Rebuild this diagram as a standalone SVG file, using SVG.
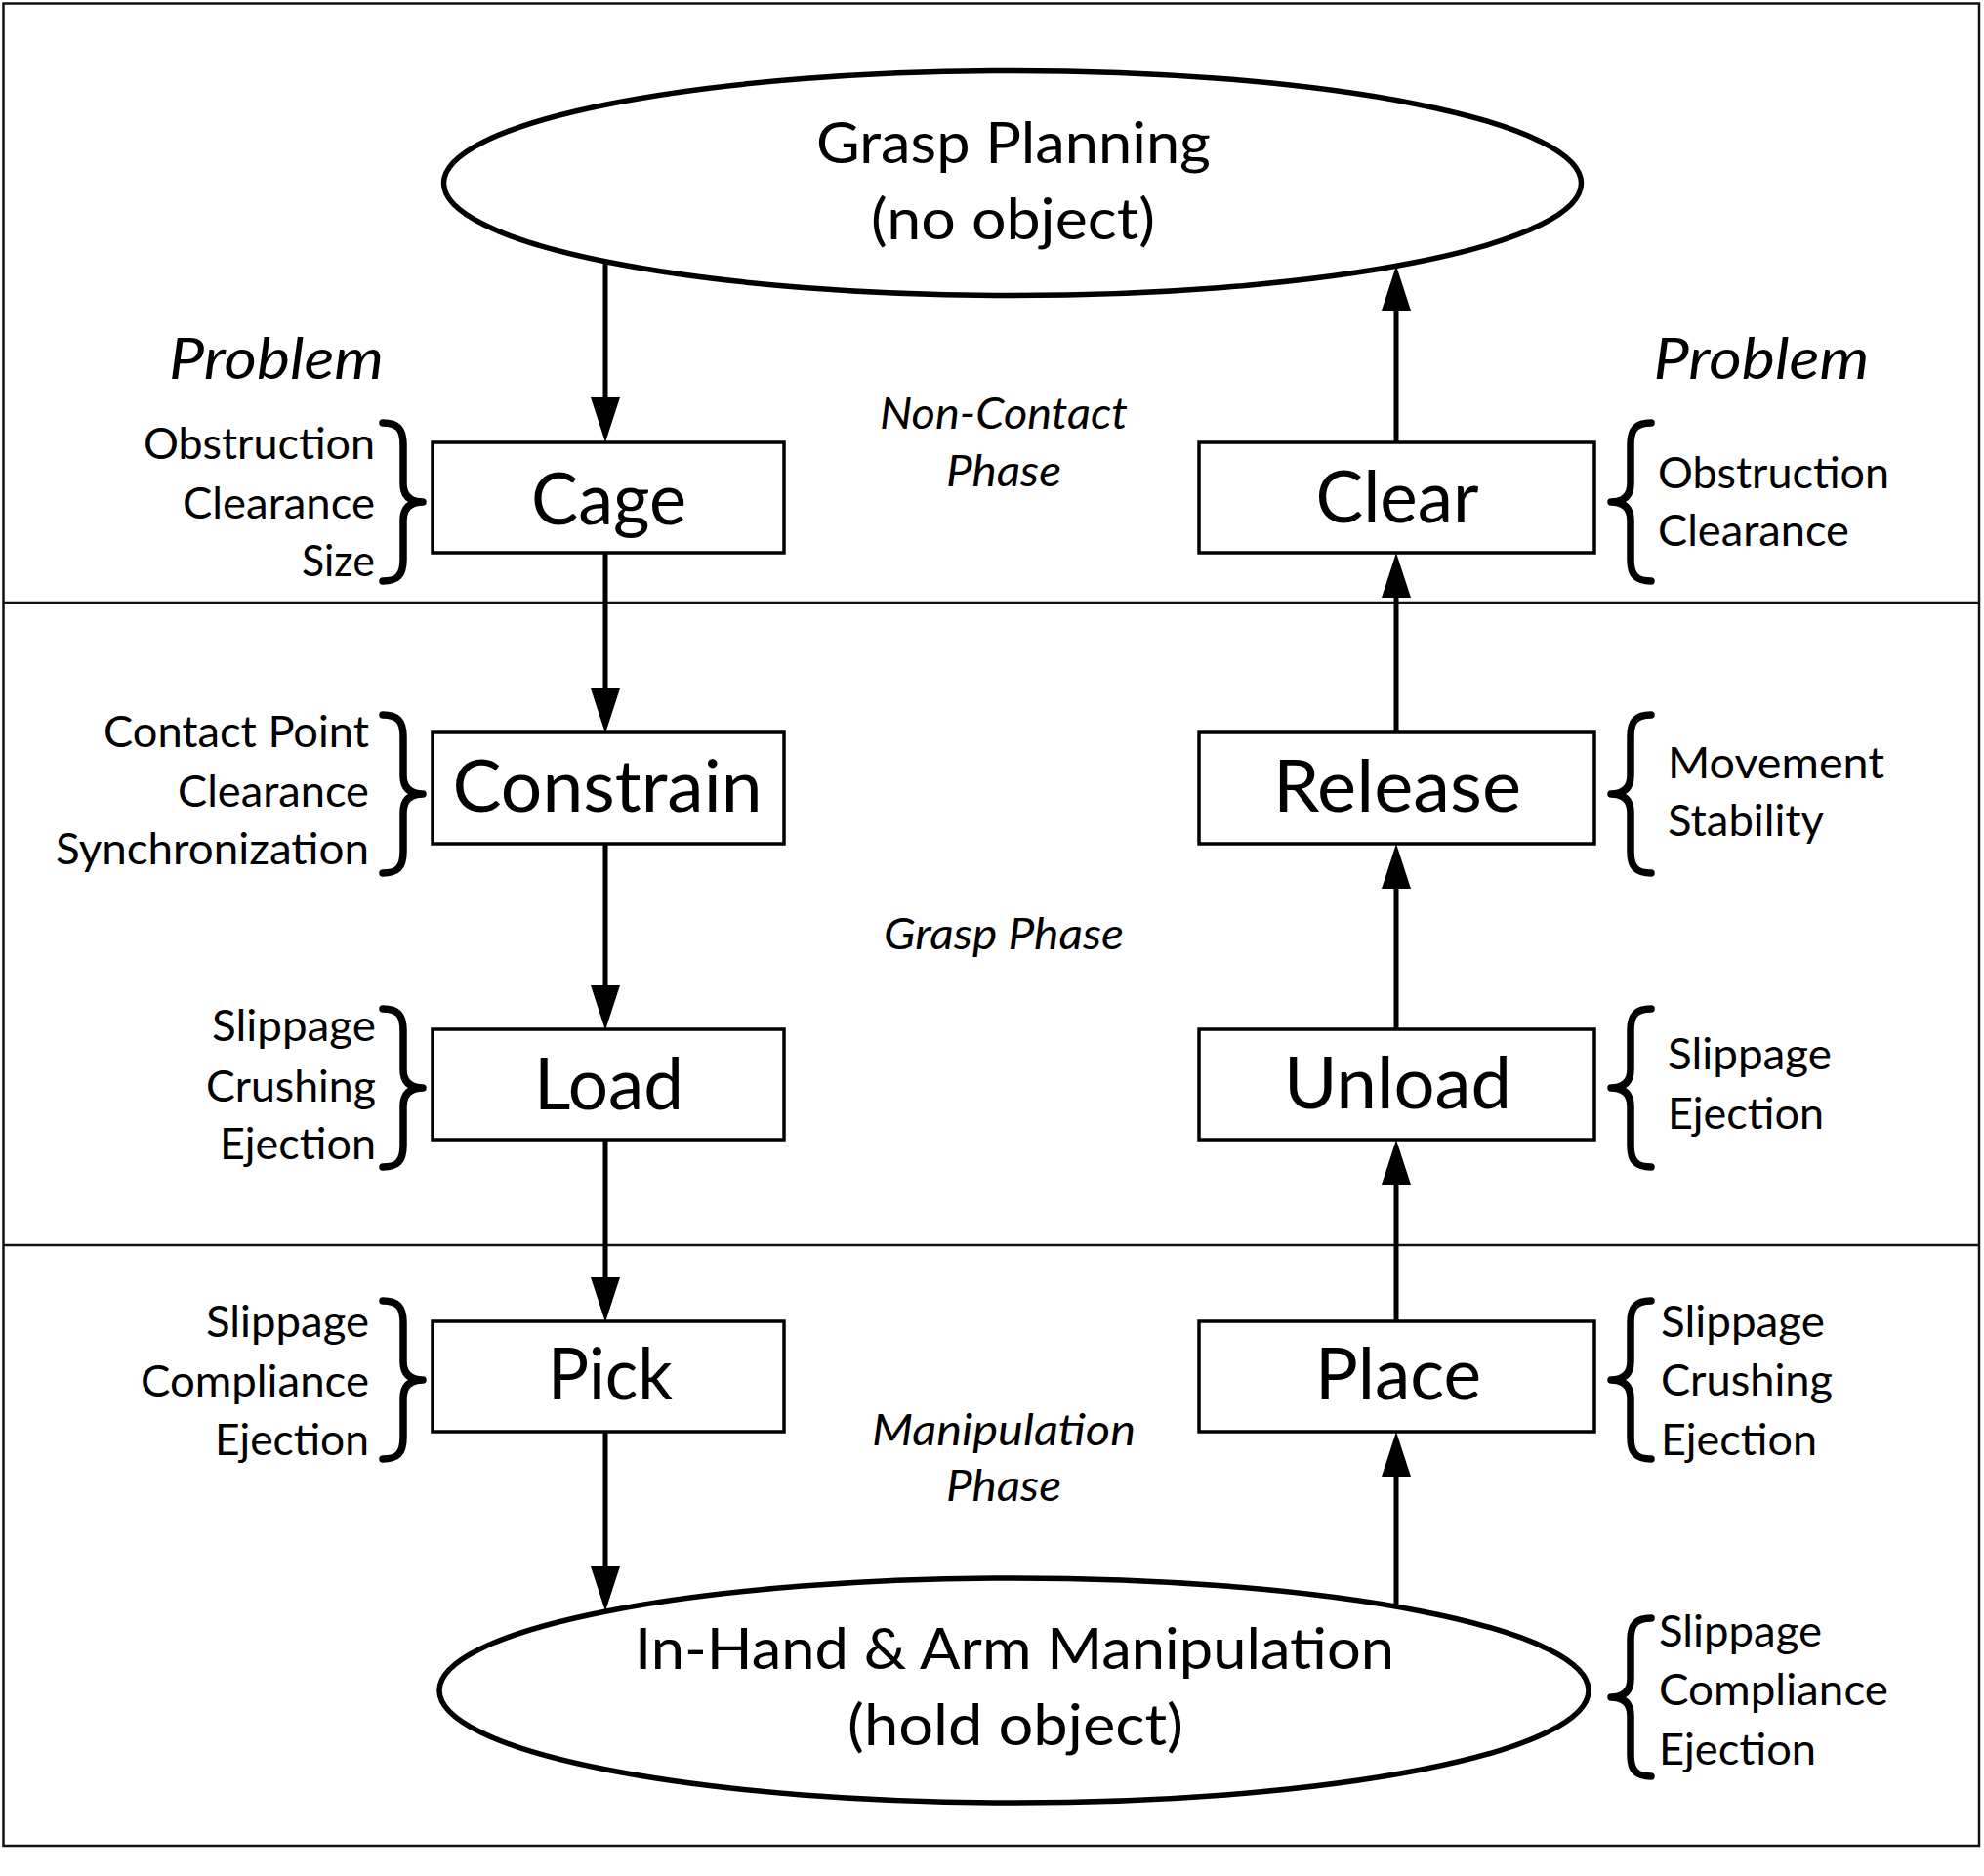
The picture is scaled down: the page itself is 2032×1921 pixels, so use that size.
<svg xmlns="http://www.w3.org/2000/svg" width="2032" height="1921" viewBox="0 0 2032 1921">
<style>
text{font-family:Lato,"Open Sans","Liberation Sans",sans-serif;fill:#000}
.big{font-size:59px;text-anchor:middle}
.box{font-size:73px;text-anchor:middle}
.lab{font-size:45px}
.l{text-anchor:end}
.r{text-anchor:start}
.ph{font-size:44px;font-style:italic;text-anchor:middle}
.prob{font-size:58px;font-style:italic;text-anchor:middle}
.frame{fill:none;stroke:#111;stroke-width:2.5}
.node{fill:#fff;stroke:#000;stroke-width:3.5}
.ell{fill:#fff;stroke:#000;stroke-width:5.5}
.conn{stroke:#000;stroke-width:5;fill:none}
.brace{fill:none;stroke:#000;stroke-width:7.5;stroke-linecap:round;stroke-linejoin:round}
</style>
<defs>
<marker id="ah" markerUnits="userSpaceOnUse" markerWidth="46" markerHeight="30" refX="5" refY="15" orient="auto">
<path d="M0,0 L46,15 L0,30 z" fill="#000"/>
</marker>
<path id="bl" d="M0,0 C15,0 21,6 21,22 L21,62 C21,75 28,81 41,81 C28,81 21,87 21,100 L21,140 C21,156 15,162 0,162"/>
<path id="br" d="M0,0 C-15,0 -21,6 -21,22 L-21,62 C-21,75 -28,81 -41,81 C-28,81 -21,87 -21,100 L-21,140 C-21,156 -15,162 0,162"/>
</defs>
<rect width="2032" height="1921" fill="#fff"/>
<g id="frame">
<rect class="frame" x="3.5" y="3.5" width="2023.5" height="1886.5"/>
<line class="frame" x1="3.5" y1="617" x2="2027" y2="617"/>
<line class="frame" x1="3.5" y1="1275" x2="2027" y2="1275"/>
</g>
<g id="phases">
<text class="ph" x="1028" y="439" textLength="254" lengthAdjust="spacingAndGlyphs">Non-Contact</text>
<text class="ph" x="1028" y="498" textLength="118" lengthAdjust="spacingAndGlyphs">Phase</text>
<text class="ph" x="1028" y="972" textLength="246" lengthAdjust="spacingAndGlyphs">Grasp Phase</text>
<text class="ph" x="1028" y="1480" textLength="270" lengthAdjust="spacingAndGlyphs">Manipulation</text>
<text class="ph" x="1028" y="1537" textLength="118" lengthAdjust="spacingAndGlyphs">Phase</text>
<text class="prob" x="283" y="388" textLength="220" lengthAdjust="spacingAndGlyphs">Problem</text>
<text class="prob" x="1804" y="388" textLength="221" lengthAdjust="spacingAndGlyphs">Problem</text>
</g>
<g id="connectors">
<line class="conn" x1="620" y1="268" x2="620" y2="412" marker-end="url(#ah)"/>
<line class="conn" x1="620" y1="566" x2="620" y2="710" marker-end="url(#ah)"/>
<line class="conn" x1="620" y1="864" x2="620" y2="1014" marker-end="url(#ah)"/>
<line class="conn" x1="620" y1="1167" x2="620" y2="1313" marker-end="url(#ah)"/>
<line class="conn" x1="620" y1="1466" x2="620" y2="1609" marker-end="url(#ah)"/>
<line class="conn" x1="1430" y1="1650" x2="1430" y2="1507" marker-end="url(#ah)"/>
<line class="conn" x1="1430" y1="1353" x2="1430" y2="1208" marker-end="url(#ah)"/>
<line class="conn" x1="1430" y1="1054" x2="1430" y2="905" marker-end="url(#ah)"/>
<line class="conn" x1="1430" y1="750" x2="1430" y2="607" marker-end="url(#ah)"/>
<line class="conn" x1="1430" y1="453" x2="1430" y2="313" marker-end="url(#ah)"/>
</g>
<g id="grasp-planning">
<ellipse class="ell" cx="1037" cy="187.5" rx="582.5" ry="115"/>
<text class="big" x="1038" y="167" textLength="404" lengthAdjust="spacingAndGlyphs">Grasp Planning</text>
<text class="big" x="1037.5" y="245" textLength="291" lengthAdjust="spacingAndGlyphs">(no object)</text>
</g>
<g id="in-hand">
<ellipse class="ell" cx="1038.5" cy="1731" rx="588.5" ry="115"/>
<text class="big" x="1039" y="1709" textLength="778" lengthAdjust="spacingAndGlyphs">In-Hand &amp; Arm Manipulation</text>
<text class="big" x="1040" y="1787" textLength="344" lengthAdjust="spacingAndGlyphs">(hold object)</text>
</g>
<g id="cage">
<rect class="node" x="443" y="453" width="360" height="113"/>
<text class="box" x="623.5" y="537" textLength="159" lengthAdjust="spacingAndGlyphs">Cage</text>
</g>
<g id="constrain">
<rect class="node" x="443" y="750" width="360" height="114"/>
<text class="box" x="622" y="831" textLength="317" lengthAdjust="spacingAndGlyphs">Constrain</text>
</g>
<g id="load">
<rect class="node" x="443" y="1054" width="360" height="113"/>
<text class="box" x="623.5" y="1136" textLength="153" lengthAdjust="spacingAndGlyphs">Load</text>
</g>
<g id="pick">
<rect class="node" x="443" y="1353" width="360" height="113"/>
<text class="box" x="625" y="1433" textLength="128" lengthAdjust="spacingAndGlyphs">Pick</text>
</g>
<g id="clear">
<rect class="node" x="1228" y="453" width="405" height="113"/>
<text class="box" x="1431" y="535" textLength="167" lengthAdjust="spacingAndGlyphs">Clear</text>
</g>
<g id="release">
<rect class="node" x="1228" y="750" width="405" height="114"/>
<text class="box" x="1431" y="831" textLength="254" lengthAdjust="spacingAndGlyphs">Release</text>
</g>
<g id="unload">
<rect class="node" x="1228" y="1054" width="405" height="113"/>
<text class="box" x="1431.5" y="1135" textLength="233" lengthAdjust="spacingAndGlyphs">Unload</text>
</g>
<g id="place">
<rect class="node" x="1228" y="1353" width="405" height="113"/>
<text class="box" x="1432" y="1433" textLength="170" lengthAdjust="spacingAndGlyphs">Place</text>
</g>
<g id="braces">
<use href="#bl" class="brace" x="392" y="433"/>
<use href="#bl" class="brace" x="392" y="732"/>
<use href="#bl" class="brace" x="392" y="1033"/>
<use href="#bl" class="brace" x="392" y="1332"/>
<use href="#br" class="brace" x="1691" y="433"/>
<use href="#br" class="brace" x="1691" y="732"/>
<use href="#br" class="brace" x="1691" y="1033"/>
<use href="#br" class="brace" x="1691" y="1332"/>
<use href="#br" class="brace" x="1691" y="1657"/>
</g>
<g id="problems-left">
<text class="lab l" x="384" y="470" textLength="237" lengthAdjust="spacingAndGlyphs">Obstruction</text>
<text class="lab l" x="384" y="531" textLength="197" lengthAdjust="spacingAndGlyphs">Clearance</text>
<text class="lab l" x="384" y="590" textLength="75" lengthAdjust="spacingAndGlyphs">Size</text>
<text class="lab l" x="378" y="765" textLength="272" lengthAdjust="spacingAndGlyphs">Contact Point</text>
<text class="lab l" x="378" y="826" textLength="196" lengthAdjust="spacingAndGlyphs">Clearance</text>
<text class="lab l" x="378" y="885" textLength="321" lengthAdjust="spacingAndGlyphs">Synchronization</text>
<text class="lab l" x="385" y="1066" textLength="168" lengthAdjust="spacingAndGlyphs">Slippage</text>
<text class="lab l" x="385" y="1128" textLength="174" lengthAdjust="spacingAndGlyphs">Crushing</text>
<text class="lab l" x="385" y="1187" textLength="160" lengthAdjust="spacingAndGlyphs">Ejection</text>
<text class="lab l" x="378" y="1369" textLength="167" lengthAdjust="spacingAndGlyphs">Slippage</text>
<text class="lab l" x="378" y="1430" textLength="234" lengthAdjust="spacingAndGlyphs">Compliance</text>
<text class="lab l" x="378" y="1490" textLength="158" lengthAdjust="spacingAndGlyphs">Ejection</text>
</g>
<g id="problems-right">
<text class="lab r" x="1698" y="500" textLength="237" lengthAdjust="spacingAndGlyphs">Obstruction</text>
<text class="lab r" x="1698" y="559" textLength="196" lengthAdjust="spacingAndGlyphs">Clearance</text>
<text class="lab r" x="1708" y="797" textLength="222" lengthAdjust="spacingAndGlyphs">Movement</text>
<text class="lab r" x="1708" y="856" textLength="160" lengthAdjust="spacingAndGlyphs">Stability</text>
<text class="lab r" x="1708" y="1095" textLength="168" lengthAdjust="spacingAndGlyphs">Slippage</text>
<text class="lab r" x="1708" y="1156" textLength="160" lengthAdjust="spacingAndGlyphs">Ejection</text>
<text class="lab r" x="1701" y="1369" textLength="168" lengthAdjust="spacingAndGlyphs">Slippage</text>
<text class="lab r" x="1701" y="1429" textLength="176" lengthAdjust="spacingAndGlyphs">Crushing</text>
<text class="lab r" x="1701" y="1490" textLength="160" lengthAdjust="spacingAndGlyphs">Ejection</text>
<text class="lab r" x="1699" y="1686" textLength="167" lengthAdjust="spacingAndGlyphs">Slippage</text>
<text class="lab r" x="1699" y="1746" textLength="235" lengthAdjust="spacingAndGlyphs">Compliance</text>
<text class="lab r" x="1699" y="1807" textLength="161" lengthAdjust="spacingAndGlyphs">Ejection</text>
</g>
</svg>
